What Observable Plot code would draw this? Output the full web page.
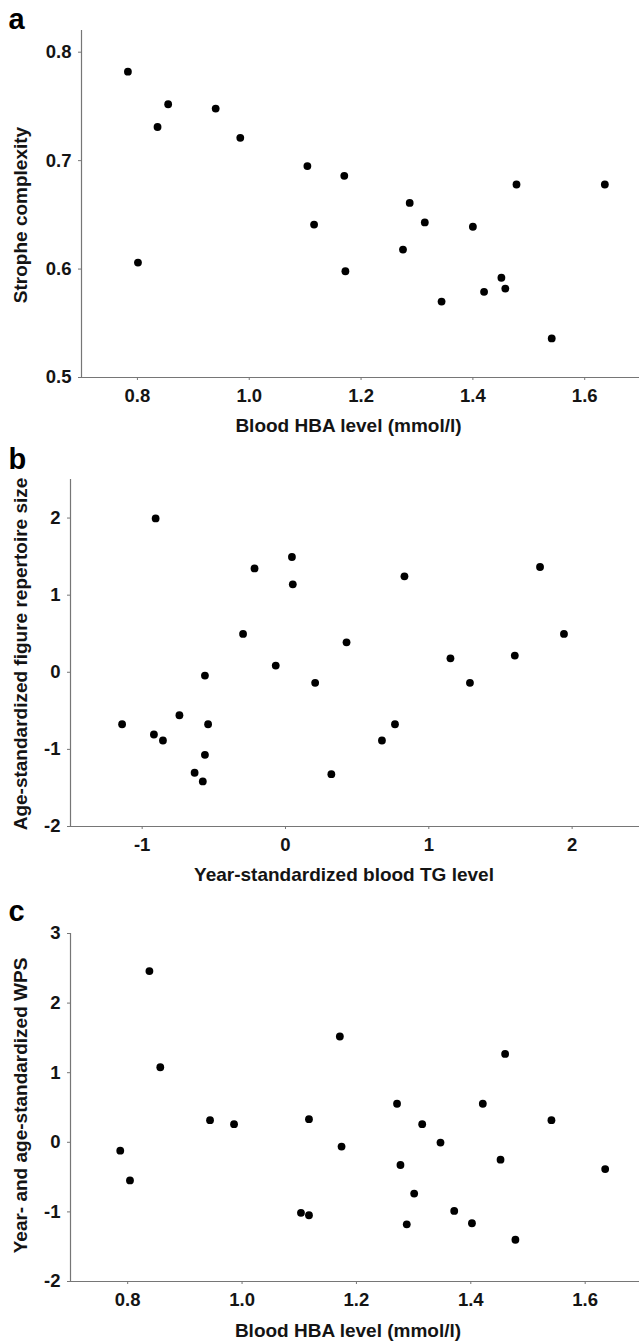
<!DOCTYPE html>
<html><head><meta charset="utf-8">
<script src="https://cdn.jsdelivr.net/npm/d3@7"></script>
<script src="https://cdn.jsdelivr.net/npm/@observablehq/plot@0.6"></script>
<style>
body{margin:0;background:#fff;width:639px;overflow:hidden}
svg{display:block}
</style></head><body><div id="chart"></div>
<script>
// Panel a: blood HBA level vs strophe complexity
const hbaA     = [0.783,0.836,0.855,0.940,0.984,1.104,1.170,1.287,1.478,1.636,0.801,1.116,1.314,1.400,1.275,1.172,1.451,1.458,1.420,1.344,1.541];
const strophe  = [0.782,0.731,0.752,0.748,0.721,0.695,0.686,0.661,0.678,0.678,0.606,0.641,0.643,0.639,0.618,0.598,0.592,0.582,0.579,0.570,0.536];
// Panel b: year-standardized blood TG vs age-standardized figure repertoire size
const tgB      = [-0.906,0.045,-0.216,0.051,0.830,1.776,-0.296,1.943,0.426,-0.068,1.151,1.600,-0.562,0.207,1.287,-1.140,-0.740,-0.540,-0.918,-0.855,0.673,0.764,-0.562,-0.634,-0.577,0.320];
const repB     = [1.995,1.495,1.347,1.140,1.244,1.365,0.497,0.497,0.389,0.087,0.181,0.216,-0.043,-0.137,-0.137,-0.674,-0.557,-0.674,-0.807,-0.885,-0.885,-0.674,-1.070,-1.303,-1.415,-1.321];
// Panel c: blood HBA level vs year- and age-standardized WPS
const hbaC     = [0.838,0.857,1.171,1.460,0.787,0.804,0.944,0.986,1.117,1.174,1.103,1.117,1.271,1.277,1.315,1.347,1.301,1.288,1.371,1.402,1.421,1.452,1.478,1.541,1.635];
const wpsC     = [2.46,1.078,1.52,1.27,-0.12,-0.548,0.318,0.26,0.332,-0.062,-1.014,-1.048,0.554,-0.326,0.26,-0.004,-0.736,-1.178,-0.986,-1.163,0.554,-0.25,-1.40,0.318,-0.384];

const ticksAx = [0.8,1.0,1.2,1.4,1.6];
const ticksAy = [0.5,0.6,0.7,0.8];
const ticksBx = [-1,0,1,2];
const ticksBy = [-2,-1,0,1,2];
const ticksCx = [0.8,1.0,1.2,1.4,1.6];
const ticksCy = [-2,-1,0,1,2,3];

const letters = ["a","b","c"];
const xLabels = ["Blood HBA level (mmol/l)","Year-standardized blood TG level","Blood HBA level (mmol/l)"];
const yLabels = ["Strophe complexity","Age-standardized figure repertoire size","Year- and age-standardized WPS"];

const AXIS = "#767676", INK = "#141414";
const FONT = "'Liberation Sans', Arial, sans-serif";

function panel(o) {
  const data = o.xs.map((x, i) => ({x, y: o.ys[i]}));
  return Plot.plot({
    width: 639, height: o.height,
    marginLeft: o.ml, marginRight: 0, marginTop: o.mt, marginBottom: o.mb,
    style: {fontFamily: FONT, fontSize: "18.5px", fontWeight: "bold", color: INK, background: "#fff", overflow: "visible"},
    x: {domain: o.xDomain},
    y: {domain: o.yDomain},
    marks: [
      Plot.ruleX([o.xDomain[0]], {stroke: AXIS, strokeWidth: 1.2}),
      Plot.ruleY([o.yDomain[0]], {stroke: AXIS, strokeWidth: 1.2}),
      Plot.axisX({ticks: o.xTicks, tickFormat: o.xFmt, tickSize: 3, tickPadding: 8, stroke: AXIS, fill: INK, label: null}),
      Plot.axisY({ticks: o.yTicks, tickFormat: o.yFmt, tickSize: 3, tickPadding: 7, stroke: AXIS, fill: INK, label: null}),
      Plot.dot(data, {x: "x", y: "y", r: 3.9, fill: "#000", stroke: null}),
      Plot.text([o.xLabel], {frameAnchor: "bottom", text: d => d, dx: o.xLabelDx, dy: o.xLabelDy, textAnchor: "middle", lineAnchor: "bottom", fontSize: 19, fontWeight: "bold", fill: INK}),
      Plot.text([o.yLabel], {frameAnchor: "left", text: d => d, rotate: -90, dx: 20 - o.ml, dy: o.yLabelDy, textAnchor: "middle", lineAnchor: "middle", fontSize: 19, fontWeight: "bold", fill: INK}),
      Plot.text([o.letter], {frameAnchor: "top-left", text: d => d, dx: 8 - o.ml, dy: o.letterBase - o.mt, textAnchor: "start", lineAnchor: "bottom", fontSize: 29, fontWeight: "bold", fill: "#000"})
    ]
  });
}

const f1 = d3.format(".1f");
const fInt = d => String(d);
const chart = document.getElementById("chart");

chart.append(panel({
  letter: letters[0], xs: hbaA, ys: strophe,
  xDomain: [0.7, 1.698], yDomain: [0.5, 0.82],
  xTicks: ticksAx, yTicks: ticksAy, xFmt: f1, yFmt: f1,
  xLabel: xLabels[0], yLabel: yLabels[0],
  height: 440, ml: 81, mt: 30, mb: 63,
  xLabelDx: -12, xLabelDy: 54.5, yLabelDy: 11, letterBase: 28
}));
chart.append(panel({
  letter: letters[1], xs: tgB, ys: repB,
  xDomain: [-1.5, 2.47], yDomain: [-2, 2.5],
  xTicks: ticksBx, yTicks: ticksBy, xFmt: fInt, yFmt: fInt,
  xLabel: xLabels[1], yLabel: yLabels[1],
  height: 450, ml: 70, mt: 39, mb: 64,
  xLabelDx: -11, xLabelDy: 54, yLabelDy: 1, letterBase: 28
}));
chart.append(panel({
  letter: letters[2], xs: hbaC, ys: wpsC,
  xDomain: [0.7, 1.695], yDomain: [-2, 3],
  xTicks: ticksCx, yTicks: ticksCy, xFmt: f1, yFmt: fInt,
  xLabel: xLabels[2], yLabel: yLabels[2],
  height: 452, ml: 70, mt: 43, mb: 61,
  xLabelDx: -7, xLabelDy: 55.5, yLabelDy: -2, letterBase: 30
}));
</script></body></html>
